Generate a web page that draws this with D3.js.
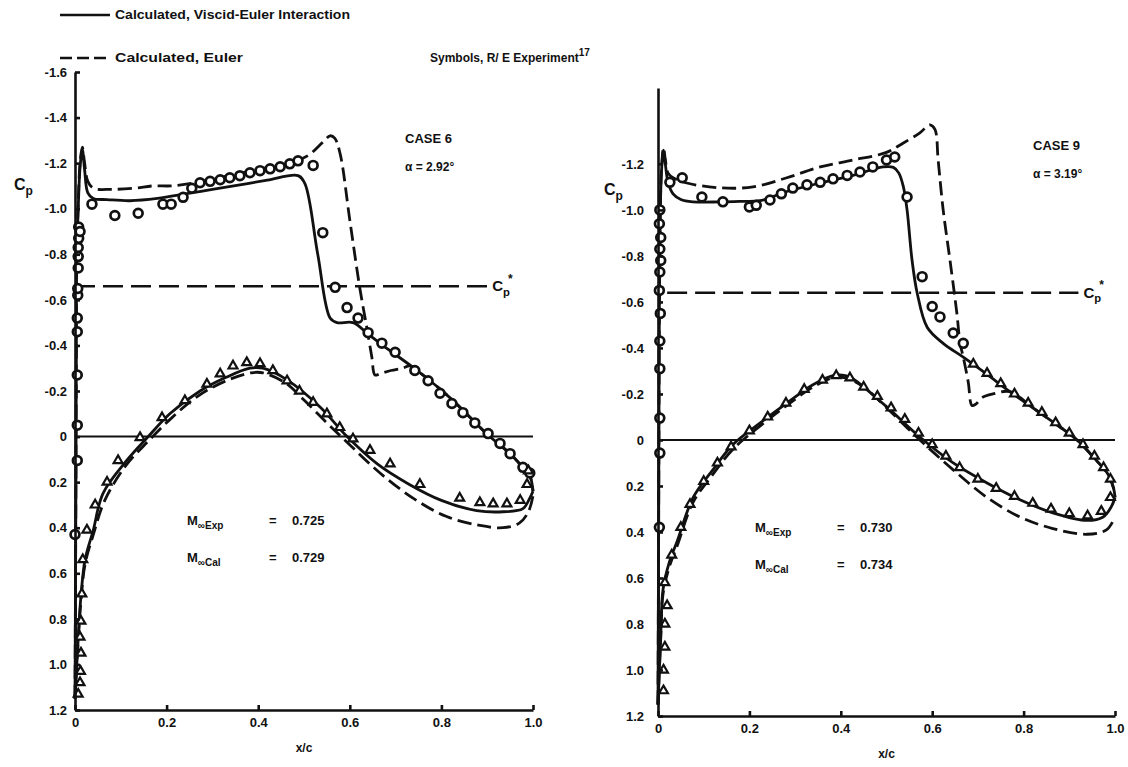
<!DOCTYPE html>
<html>
<head>
<meta charset="utf-8">
<script src="https://cdn.jsdelivr.net/npm/d3@7"></script>
<style>
body { margin: 0; background: #fff; }
svg text { font-family: "Liberation Sans", Arial, Helvetica, sans-serif; font-weight: bold; fill: #111; }
</style>
</head>
<body>
<div id="chart"></div>
<script>
/* axis ticks */
var xTicks = [0, 0.2, 0.4, 0.6, 0.8, 1.0]
var xTickLabels = ["0", "0.2", "0.4", "0.6", "0.8", "1.0"]
var yTicksCase6 = [-1.6, -1.4, -1.2, -1.0, -0.8, -0.6, -0.4, -0.2, 0, 0.2, 0.4, 0.6, 0.8, 1.0, 1.2]
var yTickLabelsCase6 = ["-1.6", "-1.4", "-1.2", "-1.0", "-0.8", "-0.6", "-0.4", "-0.2", "0", "0.2", "0.4", "0.6", "0.8", "1.0", "1.2"]
var yTicksCase9 = [-1.2, -1.0, -0.8, -0.6, -0.4, -0.2, 0, 0.2, 0.4, 0.6, 0.8, 1.0, 1.2]
var yTickLabelsCase9 = ["-1.2", "-1.0", "-0.8", "-0.6", "-0.4", "-0.2", "0", "0.2", "0.4", "0.6", "0.8", "1.0", "1.2"]

/* sonic Cp* level and its extent in x/c, per case */
var cpStar = [-0.66, -0.64]
var cpStarExtent = [[0, 0.9], [0.02, 0.92]]

/* case 6, [x/c, Cp] */
var case6ViscidUpper = [[0.0,1.15],[0.001,0.7],[0.002,0.2],[0.003,-0.4],[0.004,-0.8],[0.007,-1.0],[0.011,-1.18],[0.016,-1.26],[0.021,-1.17],[0.028,-1.07],[0.04,-1.045],[0.07,-1.04],[0.12,-1.035],[0.18,-1.045],[0.244,-1.066],[0.3,-1.085],[0.36,-1.105],[0.42,-1.125],[0.487,-1.145],[0.502,-1.11],[0.53,-0.8],[0.557,-0.52],[0.572,-0.5],[0.607,-0.5],[0.64,-0.45],[0.672,-0.4],[0.747,-0.29],[0.819,-0.17],[0.9,-0.01],[0.95,0.075],[0.98,0.14],[0.993,0.17],[1.0,0.24]]
var case6EulerUpper = [[0.0,1.15],[0.001,0.7],[0.002,0.2],[0.003,-0.4],[0.004,-0.8],[0.007,-1.02],[0.011,-1.2],[0.016,-1.27],[0.021,-1.2],[0.028,-1.12],[0.04,-1.09],[0.08,-1.085],[0.13,-1.09],[0.17,-1.1],[0.21,-1.1],[0.25,-1.11],[0.3,-1.13],[0.36,-1.155],[0.42,-1.18],[0.47,-1.2],[0.51,-1.235],[0.54,-1.29],[0.557,-1.32],[0.567,-1.31],[0.579,-1.24],[0.6,-0.95],[0.622,-0.65],[0.637,-0.48],[0.648,-0.35],[0.655,-0.27],[0.665,-0.275],[0.69,-0.29],[0.715,-0.3],[0.731,-0.31],[0.747,-0.29],[0.819,-0.17],[0.9,-0.01],[0.95,0.075],[0.98,0.14],[0.993,0.17],[1.0,0.24]]
var case6ViscidLower = [[0.0,1.15],[0.004,1.0],[0.008,0.85],[0.013,0.7],[0.022,0.54],[0.04,0.41],[0.061,0.25],[0.113,0.105],[0.16,0.0],[0.207,-0.1],[0.273,-0.2],[0.33,-0.26],[0.382,-0.3],[0.41,-0.3],[0.462,-0.25],[0.535,-0.13],[0.594,0.0],[0.66,0.12],[0.73,0.21],[0.8,0.28],[0.877,0.325],[0.935,0.33],[0.978,0.316],[0.993,0.27],[1.0,0.24]]
var case6EulerLower = [[0.0,1.15],[0.004,1.0],[0.008,0.86],[0.013,0.72],[0.022,0.56],[0.04,0.43],[0.065,0.28],[0.11,0.13],[0.16,0.02],[0.21,-0.08],[0.27,-0.18],[0.33,-0.245],[0.385,-0.28],[0.41,-0.28],[0.46,-0.235],[0.5,-0.16],[0.55,-0.06],[0.594,0.025],[0.666,0.16],[0.738,0.27],[0.81,0.35],[0.884,0.39],[0.935,0.4],[0.97,0.38],[0.99,0.33],[1.0,0.26]]
var case6ExpUpper = [[0.0,0.43],[0.005,0.105],[0.005,-0.05],[0.005,-0.27],[0.005,-0.46],[0.005,-0.52],[0.006,-0.62],[0.006,-0.65],[0.007,-0.74],[0.007,-0.79],[0.007,-0.83],[0.008,-0.87],[0.008,-0.92],[0.011,-0.9],[0.037,-1.02],[0.087,-0.97],[0.138,-0.98],[0.192,-1.02],[0.21,-1.02],[0.236,-1.05],[0.255,-1.09],[0.273,-1.114],[0.295,-1.12],[0.317,-1.127],[0.338,-1.136],[0.36,-1.145],[0.382,-1.158],[0.404,-1.167],[0.426,-1.175],[0.448,-1.184],[0.469,-1.197],[0.487,-1.21],[0.52,-1.19],[0.541,-0.895],[0.568,-0.655],[0.594,-0.566],[0.618,-0.52],[0.64,-0.456],[0.67,-0.41],[0.699,-0.37],[0.742,-0.29],[0.771,-0.245],[0.797,-0.19],[0.823,-0.145],[0.847,-0.105],[0.873,-0.06],[0.902,-0.013],[0.928,0.03],[0.95,0.075],[0.978,0.135],[0.993,0.16]]
var case6ExpLower = [[0.007,1.13],[0.011,1.08],[0.012,1.03],[0.013,0.95],[0.011,0.88],[0.013,0.81],[0.015,0.69],[0.017,0.54],[0.026,0.41],[0.044,0.3],[0.07,0.2],[0.094,0.105],[0.142,0.004],[0.19,-0.083],[0.24,-0.158],[0.288,-0.23],[0.317,-0.275],[0.345,-0.31],[0.375,-0.325],[0.404,-0.32],[0.432,-0.29],[0.463,-0.245],[0.49,-0.2],[0.52,-0.15],[0.55,-0.1],[0.578,-0.04],[0.607,0.01],[0.644,0.06],[0.688,0.12],[0.753,0.21],[0.84,0.27],[0.884,0.29],[0.913,0.295],[0.943,0.295],[0.972,0.28],[0.987,0.21],[0.99,0.15]]

/* case 9, [x/c, Cp] */
var case9ViscidUpper = [[0.0,1.15],[0.001,0.6],[0.002,0.0],[0.003,-0.6],[0.005,-1.0],[0.008,-1.18],[0.012,-1.26],[0.016,-1.2],[0.022,-1.12],[0.033,-1.07],[0.05,-1.045],[0.077,-1.035],[0.136,-1.035],[0.18,-1.037],[0.223,-1.04],[0.282,-1.08],[0.355,-1.117],[0.427,-1.15],[0.492,-1.187],[0.515,-1.185],[0.527,-1.16],[0.537,-1.1],[0.545,-1.0],[0.556,-0.78],[0.567,-0.64],[0.589,-0.49],[0.624,-0.42],[0.668,-0.36],[0.72,-0.285],[0.77,-0.21],[0.82,-0.14],[0.87,-0.07],[0.917,0.0],[0.955,0.08],[0.985,0.15],[0.997,0.21],[1.0,0.25]]
var case9EulerUpper = [[0.0,1.15],[0.001,0.6],[0.002,0.0],[0.003,-0.6],[0.005,-1.0],[0.008,-1.19],[0.012,-1.27],[0.016,-1.22],[0.022,-1.16],[0.033,-1.14],[0.063,-1.117],[0.136,-1.096],[0.208,-1.1],[0.282,-1.14],[0.355,-1.187],[0.427,-1.217],[0.5,-1.25],[0.536,-1.29],[0.573,-1.335],[0.595,-1.37],[0.606,-1.35],[0.613,-1.217],[0.624,-1.0],[0.639,-0.78],[0.654,-0.55],[0.661,-0.42],[0.668,-0.36],[0.679,-0.25],[0.687,-0.15],[0.695,-0.155],[0.71,-0.185],[0.733,-0.2],[0.77,-0.21],[0.82,-0.14],[0.87,-0.07],[0.917,0.0],[0.955,0.08],[0.985,0.15],[0.997,0.21],[1.0,0.25]]
var case9ViscidLower = [[0.0,1.15],[0.003,1.0],[0.006,0.85],[0.011,0.65],[0.025,0.53],[0.042,0.44],[0.077,0.25],[0.12,0.13],[0.164,0.02],[0.223,-0.073],[0.282,-0.16],[0.339,-0.24],[0.383,-0.28],[0.41,-0.28],[0.427,-0.265],[0.5,-0.145],[0.573,-0.013],[0.646,0.1],[0.72,0.187],[0.792,0.26],[0.864,0.317],[0.939,0.35],[0.974,0.335],[0.992,0.29],[1.0,0.25]]
var case9EulerLower = [[0.0,1.15],[0.003,1.0],[0.006,0.86],[0.011,0.67],[0.025,0.55],[0.042,0.46],[0.077,0.27],[0.12,0.15],[0.164,0.04],[0.223,-0.06],[0.282,-0.15],[0.339,-0.23],[0.383,-0.27],[0.41,-0.27],[0.45,-0.23],[0.5,-0.14],[0.573,0.0],[0.646,0.13],[0.72,0.25],[0.792,0.335],[0.864,0.385],[0.939,0.41],[0.982,0.39],[1.0,0.335]]
var case9ExpUpper = [[0.003,0.38],[0.004,0.057],[0.004,-0.095],[0.004,-0.31],[0.004,-0.43],[0.005,-0.55],[0.003,-0.65],[0.004,-0.73],[0.006,-0.78],[0.004,-0.83],[0.006,-0.88],[0.003,-0.94],[0.004,-1.0],[0.026,-1.12],[0.053,-1.14],[0.096,-1.056],[0.142,-1.035],[0.2,-1.013],[0.215,-1.02],[0.245,-1.043],[0.27,-1.07],[0.295,-1.095],[0.326,-1.109],[0.355,-1.12],[0.383,-1.135],[0.414,-1.15],[0.442,-1.165],[0.47,-1.187],[0.5,-1.217],[0.518,-1.23],[0.545,-1.056],[0.578,-0.71],[0.6,-0.58],[0.617,-0.535],[0.646,-0.465],[0.668,-0.42]]
var case9ExpUpperAft = [[0.69,-0.33],[0.72,-0.29],[0.75,-0.245],[0.78,-0.2],[0.81,-0.16],[0.84,-0.12],[0.87,-0.075],[0.9,-0.03],[0.93,0.02],[0.955,0.07],[0.975,0.12],[0.99,0.17]]
var case9ExpLower = [[0.012,1.09],[0.012,1.0],[0.015,0.9],[0.015,0.8],[0.02,0.72],[0.015,0.62],[0.03,0.5],[0.05,0.38],[0.07,0.28],[0.1,0.18],[0.13,0.1],[0.16,0.03],[0.2,-0.04],[0.24,-0.1],[0.28,-0.16],[0.32,-0.22],[0.36,-0.26],[0.39,-0.28],[0.42,-0.27],[0.45,-0.23],[0.48,-0.19],[0.51,-0.14],[0.54,-0.09],[0.57,-0.03],[0.6,0.02],[0.63,0.07],[0.66,0.12],[0.7,0.17],[0.74,0.21],[0.78,0.245],[0.82,0.275],[0.86,0.3],[0.9,0.32],[0.94,0.33],[0.97,0.31],[0.99,0.25]]

var ink = "#111"

var svg = d3.select("#chart").append("svg")
    .attr("width", 1128)
    .attr("height", 767)

/* header legend */
var legend = svg.append("g")
legend.append("line").attr("x1", 60).attr("x2", 110).attr("y1", 15).attr("y2", 15)
    .attr("stroke", ink).attr("stroke-width", 2.5)
legend.append("text").attr("x", 115).attr("y", 19).attr("font-size", 12)
    .attr("textLength", 235).attr("lengthAdjust", "spacingAndGlyphs")
    .text("Calculated, Viscid-Euler Interaction")
legend.append("line").attr("x1", 60).attr("x2", 110).attr("y1", 58).attr("y2", 58)
    .attr("stroke", ink).attr("stroke-width", 2.5).attr("stroke-dasharray", "12,5")
legend.append("text").attr("x", 115).attr("y", 62).attr("font-size", 12)
    .attr("textLength", 128).attr("lengthAdjust", "spacingAndGlyphs")
    .text("Calculated, Euler")
var symText = legend.append("text").attr("x", 430).attr("y", 62).attr("font-size", 12)
symText.append("tspan").text("Symbols, R/ E Experiment")
symText.append("tspan").attr("dy", -6).attr("font-size", 10).text("17")

function cpLabel(g, px, py, size, star) {
    var t = g.append("text").attr("x", px).attr("y", py).attr("font-size", size)
    t.append("tspan").text("C")
    t.append("tspan").attr("dy", size * 0.3).attr("font-size", size * 0.75).text("p")
    if (star) {
        t.append("tspan").attr("dy", -size * 0.85).attr("dx", -2).attr("font-size", size * 0.8).text("*")
    }
}

function machLabel(g, px, py, sub, value) {
    var t = g.append("text").attr("x", px).attr("y", py).attr("font-size", 13)
    t.append("tspan").text("M")
    t.append("tspan").attr("dy", 4).attr("font-size", 10).text("\u221E" + sub)
    g.append("text").attr("x", px + 82).attr("y", py).attr("font-size", 13).text("=")
    g.append("text").attr("x", px + 105).attr("y", py).attr("font-size", 13).text(value)
}

function drawCase(cfg) {
    var x = d3.scaleLinear().domain([0, 1]).range(cfg.xRange)
    var y = d3.scaleLinear().domain(cfg.yDomain).range(cfg.yRange)
    var g = svg.append("g")

    var line = d3.line()
        .x(function(d) { return x(d[0]) })
        .y(function(d) { return y(d[1]) })
        .curve(d3.curveCatmullRom.alpha(0.5))

    /* zero line and sonic line */
    g.append("line")
        .attr("x1", x(0)).attr("x2", x(1))
        .attr("y1", y(0)).attr("y2", y(0))
        .attr("stroke", ink).attr("stroke-width", 2)
    g.append("line")
        .attr("x1", x(cfg.cpStarExtent[0])).attr("x2", x(cfg.cpStarExtent[1]))
        .attr("y1", y(cfg.cpStar)).attr("y2", y(cfg.cpStar))
        .attr("stroke", ink).attr("stroke-width", 2.4).attr("stroke-dasharray", "20,8")
    cpLabel(g, x(cfg.cpStarExtent[1]) + 5, y(cfg.cpStar) + 5, 15, true)

    /* calculated curves */
    var curves = [
        {data: cfg.eulerUpper, dash: "14,6"},
        {data: cfg.eulerLower, dash: "14,6"},
        {data: cfg.viscidUpper, dash: null},
        {data: cfg.viscidLower, dash: null}
    ]
    g.selectAll(".curve")
        .data(curves)
        .enter().append("path")
        .attr("class", "curve")
        .attr("d", function(d) { return line(d.data) })
        .attr("fill", "none")
        .attr("stroke", ink)
        .attr("stroke-width", 2.8)
        .attr("stroke-linejoin", "round")
        .attr("stroke-dasharray", function(d) { return d.dash })

    /* experiment symbols */
    g.selectAll(".circ")
        .data(cfg.expCircles)
        .enter().append("circle")
        .attr("class", "circ")
        .attr("cx", function(d) { return x(d[0]) })
        .attr("cy", function(d) { return y(d[1]) })
        .attr("r", 4.4)
        .attr("fill", "#fff")
        .attr("stroke", ink)
        .attr("stroke-width", 2.7)

    var tri = d3.symbol().type(d3.symbolTriangle).size(34)
    g.selectAll(".tri")
        .data(cfg.expTriangles)
        .enter().append("path")
        .attr("class", "tri")
        .attr("transform", function(d) { return "translate(" + x(d[0]) + "," + y(d[1]) + ")" })
        .attr("d", tri)
        .attr("fill", "#fff")
        .attr("stroke", ink)
        .attr("stroke-width", 2.2)

    /* axes */
    var yAxis = d3.axisLeft(y)
        .tickValues(cfg.yTicks)
        .tickFormat(function(d, i) { return cfg.yTickLabels[i] })
        .tickSize(-5)
        .tickSizeOuter(0)
        .tickPadding(cfg.yPad)
    var xAxis = d3.axisBottom(x)
        .tickValues(xTicks)
        .tickFormat(function(d, i) { return xTickLabels[i] })
        .tickSize(-5)
        .tickSizeOuter(0)
        .tickPadding(8)

    g.append("g")
        .attr("transform", "translate(" + cfg.xRange[0] + ",0)")
        .call(yAxis)
    g.append("g")
        .attr("transform", "translate(0," + cfg.yRange[1] + ")")
        .call(xAxis)
    g.selectAll(".domain, .tick line").attr("stroke", ink).attr("stroke-width", 2.6)
    g.selectAll(".tick text")
        .attr("font-size", 13)
        .attr("font-family", "Liberation Sans, Arial, sans-serif")
        .attr("font-weight", "bold")
        .attr("fill", ink)

    cpLabel(g, cfg.cpLabelPos[0], cfg.cpLabelPos[1], 16, false)

    g.append("text").attr("x", (cfg.xRange[0] + cfg.xRange[1]) / 2).attr("y", cfg.yRange[1] + 42)
        .attr("text-anchor", "middle").attr("font-size", 12).text("x/c")

    g.append("text").attr("x", cfg.casePos[0]).attr("y", cfg.casePos[1])
        .attr("font-size", 13).text(cfg.caseName)
    g.append("text").attr("x", cfg.casePos[0]).attr("y", cfg.casePos[1] + 28)
        .attr("font-size", 12).text(cfg.alpha)

    machLabel(g, cfg.machPos[0], cfg.machPos[1], "Exp", cfg.machExp)
    machLabel(g, cfg.machPos[0], cfg.machPos[1] + 37, "Cal", cfg.machCal)
}

drawCase({
    xRange: [75, 533], yDomain: [-1.6, 1.2], yRange: [72, 710],
    yTicks: yTicksCase6, yTickLabels: yTickLabelsCase6, yPad: 8,
    cpStar: cpStar[0], cpStarExtent: cpStarExtent[0],
    viscidUpper: case6ViscidUpper, viscidLower: case6ViscidLower,
    eulerUpper: case6EulerUpper, eulerLower: case6EulerLower,
    expCircles: case6ExpUpper, expTriangles: case6ExpLower,
    cpLabelPos: [14, 190], casePos: [405, 143], caseName: "CASE 6", alpha: "\u03B1 = 2.92\u00B0",
    machPos: [187, 525], machExp: "0.725", machCal: "0.729"
})

drawCase({
    xRange: [658, 1115], yDomain: [-1.53, 1.2], yRange: [88, 716],
    yTicks: yTicksCase9, yTickLabels: yTickLabelsCase9, yPad: 14,
    cpStar: cpStar[1], cpStarExtent: cpStarExtent[1],
    viscidUpper: case9ViscidUpper, viscidLower: case9ViscidLower,
    eulerUpper: case9EulerUpper, eulerLower: case9EulerLower,
    expCircles: case9ExpUpper, expTriangles: case9ExpUpperAft.concat(case9ExpLower),
    cpLabelPos: [604, 195], casePos: [1033, 150], caseName: "CASE 9", alpha: "\u03B1 = 3.19\u00B0",
    machPos: [755, 532], machExp: "0.730", machCal: "0.734"
})
</script>
</body>
</html>
